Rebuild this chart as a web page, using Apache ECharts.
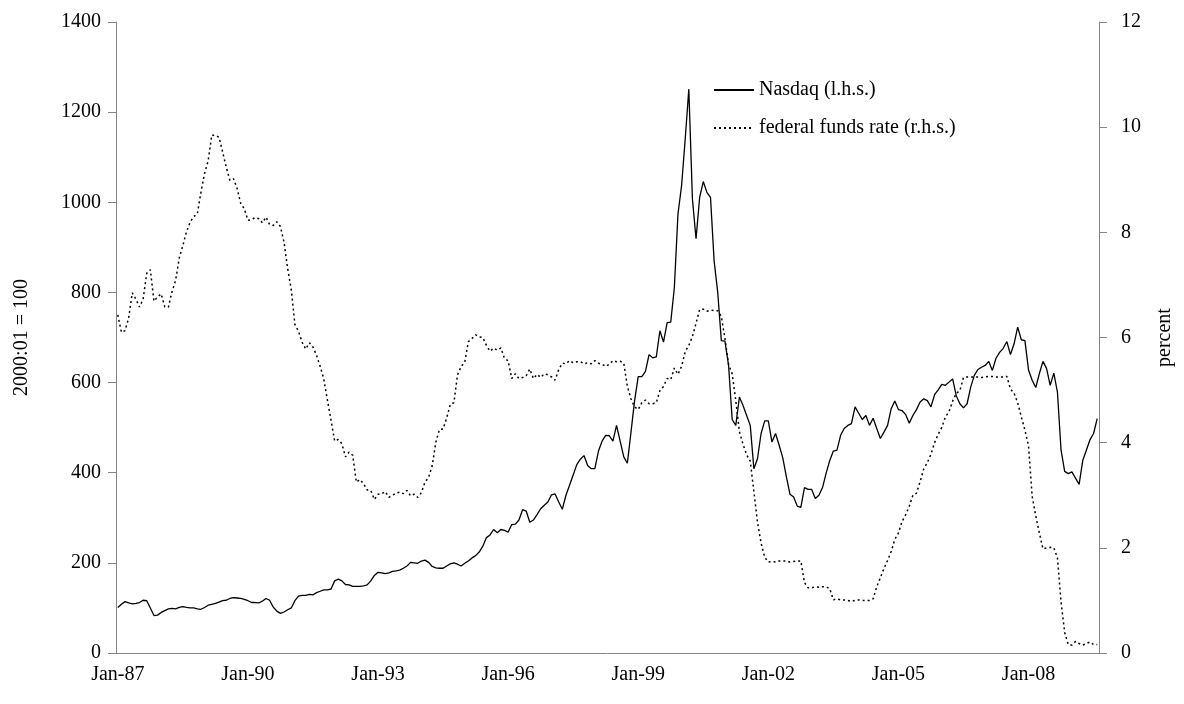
<!DOCTYPE html>
<html>
<head>
<meta charset="utf-8">
<script src="https://cdn.jsdelivr.net/npm/echarts@6/dist/echarts.min.js"></script>
<style>
  html, body { margin: 0; padding: 0; background: #fff; }
  #chart { width: 1184px; height: 704px; }
</style>
</head>
<body>
<div id="chart"></div>
<script>
// monthly categories Jan-87 .. Aug-09
var monthNames = ['Jan', 'Feb', 'Mar', 'Apr', 'May', 'Jun', 'Jul', 'Aug', 'Sep', 'Oct', 'Nov', 'Dec']
var firstYear = 1987
var monthCount = 272
var months = []
for (var m = 0; m < monthCount; m++) {
  var yy = (firstYear + Math.floor(m / 12)) % 100
  months.push(monthNames[m % 12] + '-' + (yy < 10 ? '0' + yy : '' + yy))
}

// Nasdaq index (l.h.s.), one row per year
var nasdaq = [
  101, 108, 114, 111, 109, 110, 112, 117, 116, 100, 83, 84,
  90, 94, 98, 99, 98, 101, 103, 101, 100, 100, 98, 97,
  101, 106, 108, 110, 113, 116, 117, 121, 123, 122, 121, 119,
  116, 112, 112, 111, 115, 121, 117, 102, 93, 88, 91, 96,
  100, 116, 126, 128, 128, 130, 129, 134, 137, 140, 140, 142,
  160, 164, 160, 152, 151, 148, 148, 148, 149, 151, 160, 172,
  179, 178, 176, 178, 181, 182, 184, 188, 193, 201, 200, 199,
  204, 206, 201, 192, 189, 188, 188, 193, 198, 200, 197, 193,
  199, 204, 211, 216, 224, 237, 256, 262, 274, 267, 274, 272,
  268, 285, 286, 295, 318, 315, 290, 295, 307, 320, 328, 335,
  351, 353, 335, 319, 350, 372, 395, 418, 430, 438, 416, 409,
  409, 448, 470, 483, 482, 470, 505, 470, 435, 421, 490, 560,
  613, 613, 625, 662, 655, 657, 715, 690, 733, 734, 811, 974,
  1037, 1140, 1251, 1007, 919, 1011, 1046, 1022, 1011, 870, 800, 693,
  692, 638, 518, 505, 568, 549, 527, 505, 409, 431, 487, 515,
  515, 468, 487, 461, 433, 391, 352, 346, 326, 323, 367, 363,
  363, 343, 350, 367, 399, 427, 448, 450, 483, 498, 505, 509,
  546, 532, 518, 527, 505, 521, 498, 476, 490, 505, 542, 559,
  540, 538, 529, 510, 527, 540, 557, 564, 560, 546, 573, 584,
  596, 594, 601, 608, 571, 553, 544, 553, 590, 616, 629, 634,
  638, 647, 627, 654, 667, 676, 691, 662, 686, 723, 695, 693,
  628, 605, 589, 620, 647, 631, 594, 621, 579, 450, 403, 398,
  402, 388, 374, 427, 450, 473, 487, 520
]

// federal funds rate, percent (r.h.s.)
var fedFunds = [
  6.43, 6.10, 6.13, 6.37, 6.85, 6.73, 6.58, 6.73, 7.22, 7.29, 6.69, 6.77,
  6.83, 6.58, 6.58, 6.87, 7.09, 7.51, 7.75, 8.01, 8.19, 8.30, 8.35, 8.76,
  9.12, 9.36, 9.85, 9.84, 9.81, 9.53, 9.24, 8.99, 9.02, 8.84, 8.55, 8.45,
  8.23, 8.24, 8.28, 8.26, 8.18, 8.29, 8.15, 8.13, 8.20, 8.11, 7.81, 7.31,
  6.91, 6.25, 6.12, 5.91, 5.78, 5.90, 5.82, 5.66, 5.45, 5.21, 4.81, 4.43,
  4.03, 4.06, 3.98, 3.73, 3.82, 3.76, 3.25, 3.30, 3.22, 3.10, 3.09, 2.92,
  3.02, 3.03, 3.07, 2.96, 3.00, 3.04, 3.06, 3.03, 3.09, 2.99, 3.02, 2.96,
  3.05, 3.25, 3.34, 3.56, 4.01, 4.25, 4.26, 4.47, 4.73, 4.76, 5.29, 5.45,
  5.53, 5.92, 5.98, 6.05, 6.01, 6.00, 5.85, 5.74, 5.80, 5.76, 5.80, 5.60,
  5.56, 5.22, 5.31, 5.22, 5.24, 5.27, 5.40, 5.22, 5.30, 5.24, 5.31, 5.29,
  5.25, 5.19, 5.39, 5.51, 5.50, 5.56, 5.52, 5.54, 5.54, 5.50, 5.52, 5.50,
  5.56, 5.51, 5.49, 5.45, 5.49, 5.56, 5.54, 5.55, 5.51, 5.07, 4.83, 4.68,
  4.63, 4.76, 4.81, 4.74, 4.74, 4.76, 4.99, 5.07, 5.22, 5.20, 5.42, 5.30,
  5.45, 5.73, 5.85, 6.02, 6.27, 6.53, 6.54, 6.50, 6.52, 6.51, 6.51, 6.40,
  5.98, 5.49, 5.31, 4.80, 4.21, 3.97, 3.77, 3.65, 3.07, 2.49, 2.09, 1.82,
  1.73, 1.74, 1.73, 1.75, 1.75, 1.75, 1.73, 1.74, 1.75, 1.75, 1.34, 1.24,
  1.24, 1.26, 1.25, 1.26, 1.26, 1.22, 1.01, 1.03, 1.01, 1.01, 1.00, 0.98,
  1.00, 1.01, 1.00, 1.00, 1.00, 1.03, 1.26, 1.43, 1.61, 1.76, 1.93, 2.16,
  2.28, 2.50, 2.63, 2.79, 3.00, 3.04, 3.26, 3.50, 3.62, 3.78, 4.00, 4.16,
  4.29, 4.49, 4.59, 4.79, 4.94, 4.99, 5.24, 5.25, 5.25, 5.25, 5.25, 5.24,
  5.25, 5.26, 5.26, 5.25, 5.25, 5.25, 5.26, 5.02, 4.94, 4.76, 4.49, 4.24,
  3.94, 2.98, 2.61, 2.28, 1.98, 2.00, 2.01, 2.00, 1.81, 0.97, 0.39, 0.16,
  0.15, 0.22, 0.18, 0.15, 0.18, 0.21, 0.16, 0.16
]

var font = 'Liberation Serif, Times New Roman, serif'
var axisGrey = '#868686'

var chart = echarts.init(document.getElementById('chart'))
chart.setOption({
  animation: false,
  backgroundColor: '#fff',
  textStyle: { fontFamily: font },
  grid: { left: 116, right: 85, top: 22, bottom: 51 },
  legend: {
    orient: 'vertical',
    left: 708,
    top: 75,
    itemWidth: 40,
    itemHeight: 14,
    itemGap: 18,
    // line sample only, no marker dot
    itemStyle: { opacity: 0 },
    textStyle: { fontFamily: font, fontSize: 20, color: '#000' },
    data: ['Nasdaq (l.h.s.)', 'federal funds rate (r.h.s.)']
  },
  xAxis: {
    type: 'category',
    data: months,
    boundaryGap: true,
    axisLine: { lineStyle: { color: axisGrey, width: 1 } },
    axisTick: { interval: 35, length: 8, lineStyle: { color: axisGrey } },
    axisLabel: { interval: 35, color: '#000', fontFamily: font, fontSize: 20, margin: 12 },
    splitLine: { show: false }
  },
  yAxis: [
    {
      type: 'value',
      position: 'left',
      min: 0,
      max: 1400,
      interval: 200,
      name: '2000:01 = 100',
      nameLocation: 'middle',
      nameRotate: 90,
      nameGap: 84,
      nameTextStyle: { fontFamily: font, fontSize: 20, color: '#000' },
      axisLine: { show: true, lineStyle: { color: axisGrey, width: 1 } },
      axisTick: { show: true, length: 8, lineStyle: { color: axisGrey } },
      axisLabel: {
        color: '#000', fontFamily: font, fontSize: 20, margin: 15,
        formatter: function(v) { return String(v) }
      },
      splitLine: { show: false }
    },
    {
      type: 'value',
      position: 'right',
      min: 0,
      max: 12,
      interval: 2,
      name: 'percent',
      nameLocation: 'middle',
      nameRotate: 90,
      nameGap: 56,
      nameTextStyle: { fontFamily: font, fontSize: 20, color: '#000' },
      axisLine: { show: true, lineStyle: { color: axisGrey, width: 1 } },
      axisTick: { show: true, length: 8, lineStyle: { color: axisGrey } },
      axisLabel: { color: '#000', fontFamily: font, fontSize: 20, margin: 22 },
      splitLine: { show: false }
    }
  ],
  series: [
    {
      name: 'Nasdaq (l.h.s.)',
      type: 'line',
      yAxisIndex: 0,
      symbol: 'none',
      data: nasdaq,
      lineStyle: { color: '#000', width: 1.3 },
      itemStyle: { color: '#000' }
    },
    {
      name: 'federal funds rate (r.h.s.)',
      type: 'line',
      yAxisIndex: 1,
      symbol: 'none',
      data: fedFunds,
      lineStyle: { color: '#000', width: 1.5, type: [2, 3] },
      itemStyle: { color: '#000' }
    }
  ]
})
</script>
</body>
</html>
